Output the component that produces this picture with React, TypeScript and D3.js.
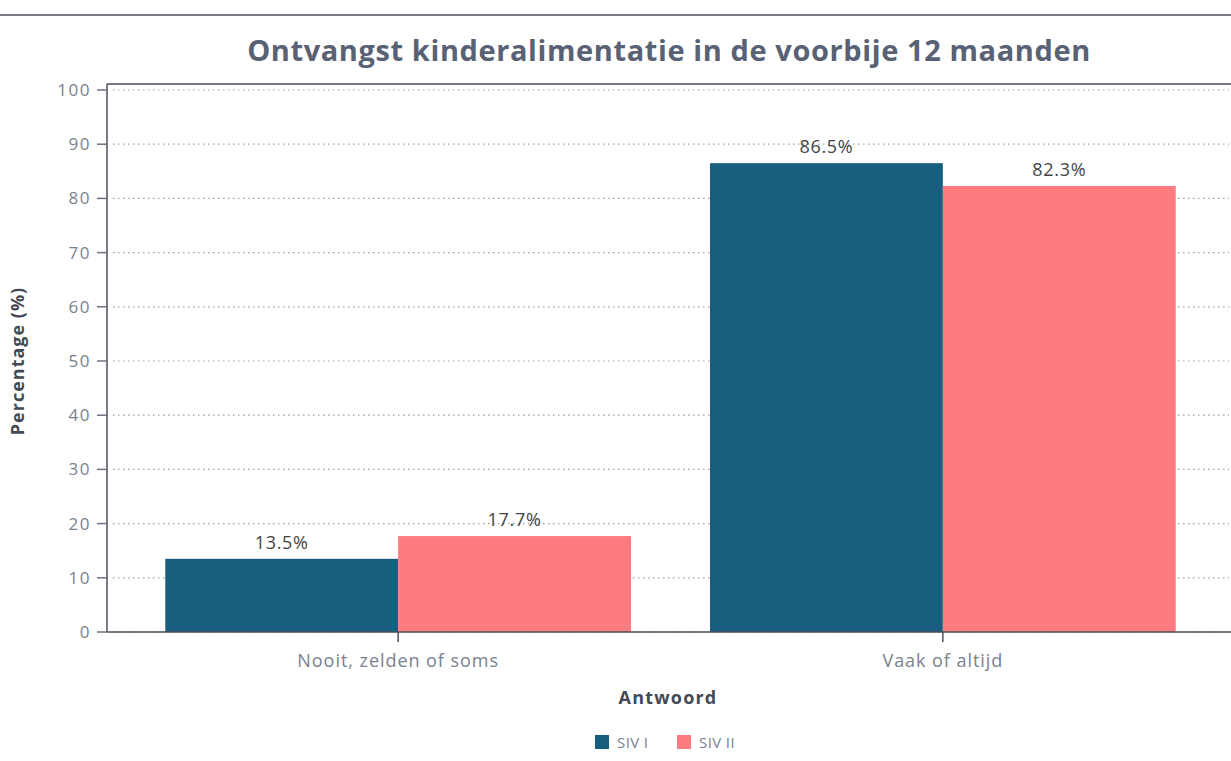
import React from 'react'
import * as d3 from 'd3'

const categories = ['Nooit, zelden of soms', 'Vaak of altijd']
const series = ['SIV I', 'SIV II']
const sivI = [13.5, 86.5]
const sivII = [17.7, 82.3]
const yTicks = [0, 10, 20, 30, 40, 50, 60, 70, 80, 90, 100]
const colors = ['#175e7f', '#ff7b80']

const W = 1231
const H = 761
const FONT = '"Open Sans", sans-serif'

const App = () => {
  const top = 90
  const bottom = 632
  const left = 107
  const right = 1229

  const y = d3.scaleLinear().domain([0, 100]).range([bottom, top])
  const x = d3.scaleBand<string>().domain(categories).range([left, 1234]).paddingInner(0.145).paddingOuter(0.107)
  const x1 = d3.scaleBand<string>().domain(series).range([0, x.bandwidth()])
  const values = [sivI, sivII]

  return (
    <svg width={W} height={H} style={{ position: 'absolute', left: 0, top: 0, background: '#fff' }}>
      <line x1={0} x2={W} y1={15} y2={15} stroke="#4a4f5a" strokeWidth={1.5} />
      <text x={669} y={61} textAnchor="middle" fontFamily={FONT} fontWeight={700} fontSize={29} letterSpacing={0.6} fill="#596274">
        Ontvangst kinderalimentatie in de voorbije 12 maanden
      </text>

      {/* grid */}
      {yTicks.map(t => (
        <line key={t} x1={left + 6} x2={right} y1={y(t)} y2={y(t)} stroke="#9aa0aa" strokeWidth={1.2} strokeDasharray="1.5 3.5" />
      ))}
      <line x1={left} x2={W} y1={84} y2={84} stroke="#4a4f5a" strokeWidth={1.5} />

      {/* bars */}
      {categories.map((c, i) => (
        <g key={c}>
          {series.map((s, j) => {
            const v = values[j][i]
            const bx = (x(c) ?? 0) + (x1(s) ?? 0)
            return (
              <g key={s}>
                <rect x={bx} y={y(v)} width={x1.bandwidth()} height={bottom - y(v)} fill={colors[j]} />
                <text x={bx + x1.bandwidth() / 2} y={y(v) - 10} textAnchor="middle" fontFamily={FONT} fontSize={18} letterSpacing={0.7} fill="#444">
                  {v.toFixed(1)}%
                </text>
              </g>
            )
          })}
        </g>
      ))}

      {/* y axis */}
      <line x1={left} x2={left} y1={84} y2={bottom} stroke="#4a4f5a" strokeWidth={1.5} />
      {yTicks.map(t => (
        <g key={t}>
          <line x1={left - 10} x2={left} y1={y(t)} y2={y(t)} stroke="#6b7280" strokeWidth={1.5} />
          <text x={left - 16} y={y(t)} dy="0.35em" textAnchor="end" fontFamily={FONT} fontSize={17} letterSpacing={1.5} fill="#7a8190">
            {t}
          </text>
        </g>
      ))}
      <text transform={`translate(24,${(top + bottom) / 2}) rotate(-90)`} textAnchor="middle" fontFamily={FONT} fontWeight={700} fontSize={18} letterSpacing={1} fill="#444a55">
        Percentage (%)
      </text>

      {/* x axis */}
      <line x1={left} x2={W} y1={bottom} y2={bottom} stroke="#4a4f5a" strokeWidth={1.5} />
      {categories.map(c => {
        const cx = (x(c) ?? 0) + x.bandwidth() / 2
        return (
          <g key={c}>
            <line x1={cx} x2={cx} y1={bottom} y2={bottom + 10} stroke="#4a4f5a" strokeWidth={1.5} />
            <text x={cx} y={667} textAnchor="middle" fontFamily={FONT} fontSize={18} letterSpacing={0.95} fill="#7a8190">{c}</text>
          </g>
        )
      })}
      <text x={668} y={704} textAnchor="middle" fontFamily={FONT} fontWeight={700} fontSize={18} letterSpacing={1.2} fill="#444a55">Antwoord</text>

      {/* legend */}
      {series.map((s, j) => {
        const lx = [595, 677][j]
        return (
          <g key={s}>
            <rect x={lx} y={735} width={14} height={14} fill={colors[j]} />
            <text x={lx + 22} y={748} fontFamily={FONT} fontSize={15} letterSpacing={0.4} fill="#7a8190">{s}</text>
          </g>
        )
      })}
    </svg>
  )
}

export default App
